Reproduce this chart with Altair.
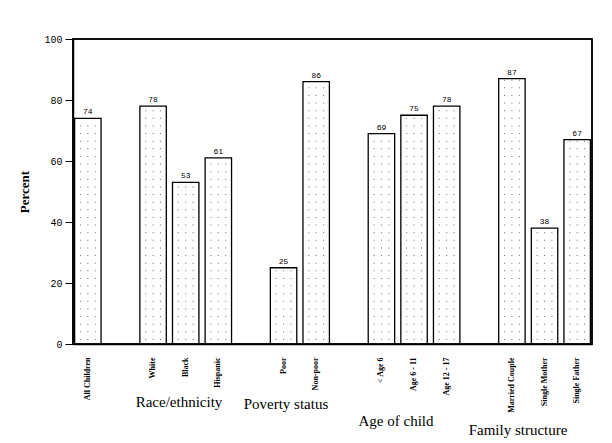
import altair as alt
import pandas as pd

categories = ["All Children", "White", "Black", "Hispanic", "Poor", "Non-poor",
              "< Age 6", "Age 6 - 11", "Age 12 - 17",
              "Married Couple", "Single Mother", "Single Father"]
values = [74, 78, 53, 61, 25, 86, 69, 75, 78, 87, 38, 67]
# band domain with blank spacer slots between groups
domain = ["All Children", " ", "White", "Black", "Hispanic", "  ", "Poor", "Non-poor",
          "   ", "< Age 6", "Age 6 - 11", "Age 12 - 17", "    ",
          "Married Couple", "Single Mother", "Single Father"]
group_labels = ["Race/ethnicity", "Poverty status", "Age of child", "Family structure"]
y_ticks = [0, 10, 20, 30, 40, 50, 60, 70, 80, 90, 100]

df = pd.DataFrame({"cat": categories, "value": values})

SERIF = "Liberation Serif"
MONO = "Liberation Mono"

xscale = alt.Scale(domain=domain, paddingInner=0.19, paddingOuter=0.05)
xenc = alt.X("cat:N", scale=xscale, sort=domain,
             axis=alt.Axis(title=None, labelAngle=-90, labelAlign="right", labelBaseline="middle",
                           ticks=False, labelPadding=13, labelFont=SERIF, labelFontSize=8,
                           labelColor="black", domainColor="black", labelFontWeight="bold",
                           domainWidth=1.5))
yscale = alt.Scale(domain=[0, 100], nice=False)
yenc = alt.Y("value:Q", scale=yscale,
             axis=alt.Axis(title="Percent", values=y_ticks, grid=False,
                           labelExpr="datum.value % 20 === 0 ? datum.label : ''",
                           tickSize={"condition": {"test": "datum.value % 20 === 0", "value": 8}, "value": 4},
                           tickColor="black", domainColor="black", labelColor="black",
                           labelFont=MONO, labelFontSize=10, labelPadding=3, domainWidth=1.5,
                           titleFont=SERIF, titleFontSize=13, titleFontWeight="bold",
                           titleColor="black", titlePadding=12))

base = alt.Chart(df)

bars = base.mark_bar(fill="white", stroke="black", strokeWidth=1.3).encode(x=xenc, y=yenc)

# frame around the plot area
frame_df = pd.DataFrame({"lo": [0], "hi": [100]})
frame = alt.Chart(frame_df).mark_rect(filled=False, stroke="black", strokeWidth=1.5).encode(
    x=alt.value(0), x2=alt.value(519),
    y=alt.Y("hi:Q", scale=yscale), y2=alt.Y2("lo:Q"))

dot_layers = []
for bp in (0.22, 0.5, 0.78):
    dot_layers.append(base.transform_calculate(
        rows="sequence(1.5, datum.value, 2.5)"
    ).transform_flatten(["rows"]).mark_square(
        size=1.0, color="#555555", opacity=0.85
    ).encode(
        x=alt.X("cat:N", sort=domain, bandPosition=bp),
        y=alt.Y("rows:Q"),
    ))

labels = base.mark_text(font=MONO, fontSize=8, dy=-6, color="black").encode(
    x=alt.X("cat:N", sort=domain), y=alt.Y("value:Q"), text="value:Q")

gl_pos = [(106, 363), (213, 365), (323, 382), (445, 391)]
glayers = []
for name, (gx, gy) in zip(group_labels, gl_pos):
    glayers.append(alt.Chart(pd.DataFrame({"t": [name]})).mark_text(
        font=SERIF, fontSize=15, color="black", baseline="middle", align="center"
    ).encode(x=alt.value(gx), y=alt.value(gy), text="t:N"))

chart = alt.layer(bars, *dot_layers, labels, frame, *glayers).properties(
    width=519, height=305,
    autosize=alt.AutoSizeParams(type="none"),
    padding={"left": 65, "top": 31, "right": 12, "bottom": 95},
    background="white",
).configure_view(stroke="black", strokeWidth=1.5)

chart.save("out.html", embed_options={"renderer": "svg", "actions": False})
